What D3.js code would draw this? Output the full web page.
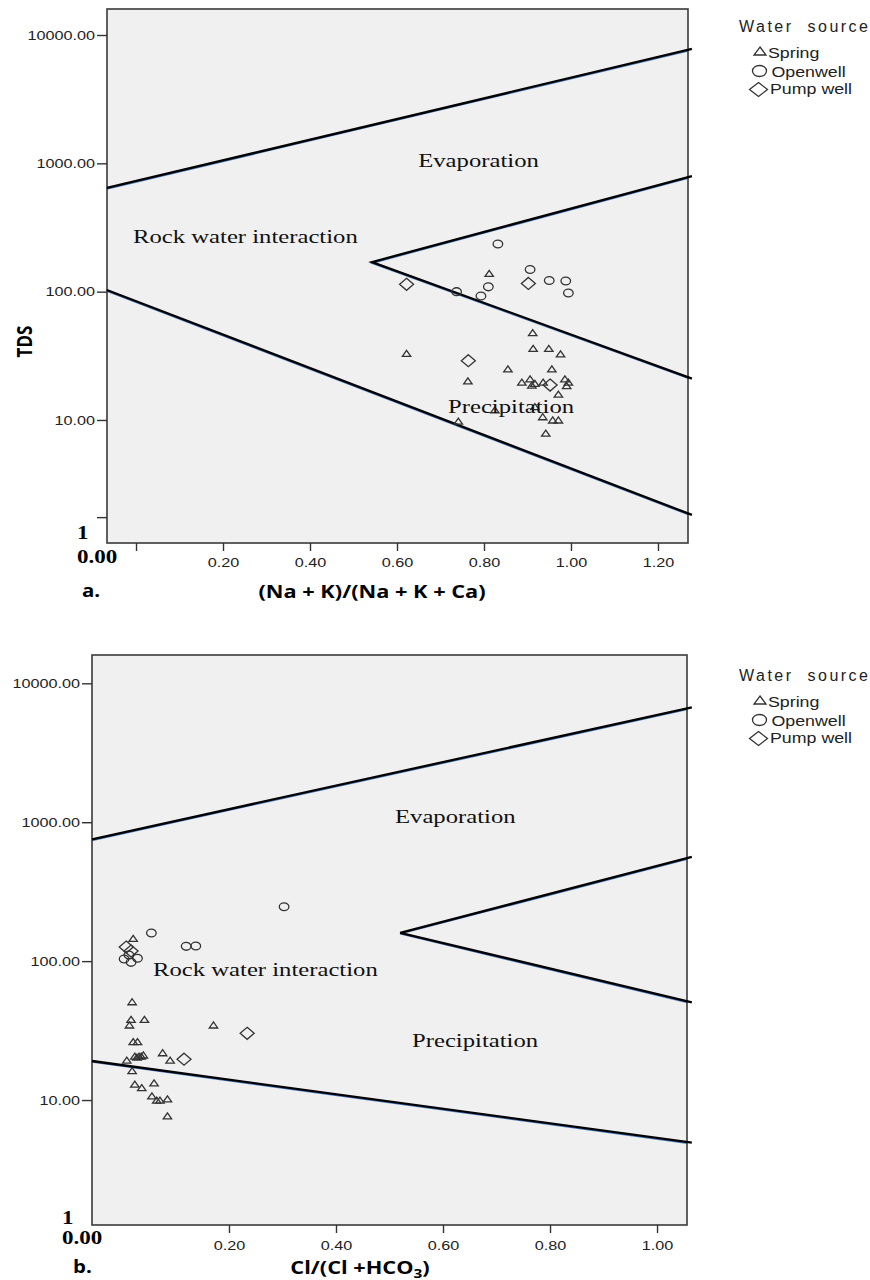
<!DOCTYPE html>
<html lang="en">
<head>
<meta charset="utf-8">
<title>Gibbs diagrams - TDS</title>
<script src="https://d3js.org/d3.v7.min.js"></script>
<style>
  body { margin: 0; background: #fff; }
  svg { display: block; }
  .tick text { font-family: "Liberation Sans", Arial, sans-serif; font-size: 13.5px; fill: #222; }
  .tick line { stroke: #333; stroke-width: 1.4px; }
  .zone { font-family: "Liberation Serif", "Times New Roman", serif; font-size: 19px; fill: #111; }
  .legend-title { font-family: "Liberation Sans", Arial, sans-serif; font-size: 16px; fill: #222; }
  .legend-item { font-family: "Liberation Sans", Arial, sans-serif; font-size: 14px; fill: #222; }
  .bold-serif { font-family: "Liberation Serif", "Times New Roman", serif; font-size: 18px; font-weight: bold; fill: #000; }
  .axis-title { font-family: "Open Sans", "Liberation Sans", sans-serif; font-size: 17px; font-weight: bold; fill: #000; }
</style>
</head>
<body>
<svg width="870" height="1280"></svg>
<script>
// ---- panel a: TDS against (Na + K)/(Na + K + Ca) ----
const springA = [[0.812,139],[0.912,47.9],[0.622,33.1],[0.913,36.2],[0.949,36.2],[0.976,32.7],
  [0.855,25.0],[0.956,25.0],[0.763,20.2],[0.887,19.7],[0.906,20.9],[0.910,18.7],[0.917,19.3],
  [0.936,19.7],[0.986,20.9],[0.994,19.7],[0.990,18.5],[0.971,15.9],[0.825,12.0],[0.917,12.7],
  [0.935,10.6],[0.958,10.0],[0.971,10.0],[0.741,9.8],[0.942,7.9]];
const openwellA = [[0.832,235],[0.906,149],[0.950,122],[0.988,121],[0.994,97.6],[0.810,109],
  [0.737,100],[0.793,92.5]];
const pumpwellA = [[0.622,114],[0.902,116],[0.764,29.0],[0.952,18.7]];
// Gibbs boundary lines (x, TDS)
const boundA = [
  [[-0.067,643],[1.278,7780]],
  [[1.278,796],[0.5425,170],[1.278,21.0]],
  [[-0.067,103],[1.278,1.82]]
];
const xTicksA = [0, 0.2, 0.4, 0.6, 0.8, 1.0, 1.2];
const yTicksA = [1.75, 10, 100, 1000, 10000];   // lowest tick is the one relabelled "1"

// ---- panel b: TDS against Cl/(Cl + HCO3) ----
const springB = [[0.021,145.9],[0.019,51.0],[0.017,38.1],[0.042,38.1],[0.014,34.7],[0.171,34.7],
  [0.021,26.3],[0.029,26.3],[0.009,19.4],[0.024,20.7],[0.032,20.7],[0.040,21.1],[0.076,21.9],
  [0.090,19.4],[0.019,16.3],[0.024,13.0],[0.037,12.3],[0.060,13.3],[0.056,10.7],[0.065,10.0],
  [0.071,10.0],[0.085,10.2],[0.085,7.7],[0.028,20.4],[0.036,20.7]];
const openwellB = [[0.303,246.5],[0.055,159.3],[0.120,127.8],[0.138,128.4],[0.004,103.5],
  [0.017,98.0],[0.029,104.8],[0.013,110.6]];
const pumpwellB = [[0.008,126.3],[0.017,118.2],[0.234,30.2],[0.116,19.7]];
const boundB = [
  [[-0.056,753],[1.065,6715]],
  [[1.065,562],[0.52,160],[1.065,50.4]],
  [[-0.056,19.1],[1.065,4.93]]
];
const xTicksB = [0.2, 0.4, 0.6, 0.8, 1.0];
const yTicksB = [10, 100, 1000, 10000];

const legendLabels = ["Spring", "Openwell", "Pump well"];

// the original figure is stretched sideways, so text is widened to match
const SX = 1.28;

const svg = d3.select("svg");
const fmt = d3.format(".2f");

function shape(kind, w, h) {
  if (kind === "triangle") return `M0,${-h/2}L${w/2},${h/2}L${-w/2},${h/2}Z`;
  if (kind === "diamond") return `M0,${-h/2}L${w/2},0L0,${h/2}L${-w/2},0Z`;
  // ellipse as path
  const rx = w/2, ry = h/2;
  return `M${-rx},0A${rx},${ry} 0 1,0 ${rx},0A${rx},${ry} 0 1,0 ${-rx},0Z`;
}

function label(g, str, x, y, cls, anchor, k) {
  return g.append("text").attr("class", cls)
    .attr("text-anchor", anchor || "start")
    .attr("transform", `translate(${x},${y}) scale(${k || SX},1)`)
    .text(str);
}

function stretchTicks(sel, k) {
  sel.each(function() {
    const w = this.getComputedTextLength();
    if (w > 0) d3.select(this).attr("textLength", w * k).attr("lengthAdjust", "spacingAndGlyphs");
  });
}

const panels = [
  { id: "a", frame: {left: 107, right: 688, top: 9, bottom: 543},
    xDomain: [-0.0667, 1.269], yDomain: [1.10, 15945],
    spring: springA, openwell: openwellA, pumpwell: pumpwellA, bounds: boundA,
    xTicks: xTicksA, yTicks: yTicksA, xPad: 6,
    zones: [["Evaporation", 478.5, 167, "middle"], ["Rock water interaction", 133, 243, "start"],
            ["Precipitation", 448, 413, "start"]],
    one: [77, 539], zero: [77, 563],
    letter: ["a.", 82, 597], title: {x: 372, y: 598}, legendDy: 0 },
  { id: "b", frame: {left: 92, right: 687, top: 655, bottom: 1225},
    xDomain: [-0.056, 1.056], yDomain: [1.26, 15990],
    spring: springB, openwell: openwellB, pumpwell: pumpwellB, bounds: boundB,
    xTicks: xTicksB, yTicks: yTicksB, xPad: 7.5,
    zones: [["Evaporation", 395, 822.5, "start"], ["Rock water interaction", 153, 976, "start"],
            ["Precipitation", 412, 1047, "start"]],
    one: [62, 1224], zero: [62, 1244],
    letter: ["b.", 73, 1273], title: {x: 358, y: 1274}, legendDy: 649 }
];

panels.forEach(p => {
  const f = p.frame;
  const g = svg.append("g").attr("class", "panel-" + p.id);
  const x = d3.scaleLinear().domain(p.xDomain).range([f.left, f.right]);
  const y = d3.scaleLog().domain(p.yDomain).range([f.bottom, f.top]);

  g.append("rect")
    .attr("x", f.left).attr("y", f.top)
    .attr("width", f.right - f.left).attr("height", f.bottom - f.top)
    .attr("fill", "#f0f0f0");

  svg.append("clipPath").attr("id", "clip-" + p.id)
    .append("rect")
    .attr("x", f.left).attr("y", f.top)
    .attr("width", f.right - f.left).attr("height", f.bottom - f.top);

  const line = d3.line().x(d => x(d[0])).y(d => y(d[1]));

  // faint blue copy under the black boundaries
  g.append("g").attr("clip-path", `url(#clip-${p.id})`)
    .selectAll("path").data(p.bounds).join("path")
      .attr("d", line)
      .attr("transform", "translate(0,1.2)")
      .attr("fill", "none")
      .attr("stroke", "#4a7fc4")
      .attr("stroke-width", 1.3);

  g.append("rect")
    .attr("x", f.left).attr("y", f.top)
    .attr("width", f.right - f.left).attr("height", f.bottom - f.top)
    .attr("fill", "none").attr("stroke", "#3a3a3a").attr("stroke-width", 1.6);

  g.append("g").selectAll("path").data(p.bounds).join("path")
    .attr("d", line)
    .attr("fill", "none")
    .attr("stroke", "#000")
    .attr("stroke-width", 2.3);

  // samples
  const series = [
    {data: p.openwell, path: shape("circle", 9.6, 7.8)},
    {data: p.pumpwell, path: shape("diamond", 14, 12)},
    {data: p.spring, path: shape("triangle", 8.4, 6)}
  ];
  series.forEach(s => {
    g.append("g").selectAll("path").data(s.data).join("path")
      .attr("d", s.path)
      .attr("transform", d => `translate(${x(d[0])},${y(d[1])})`)
      .attr("fill", "none")
      .attr("stroke", "#333")
      .attr("stroke-width", 1.3);
  });

  // region names
  p.zones.forEach(z => label(g, z[0], z[1], z[2], "zone", z[3], 1.3));

  // axes
  const yAxis = g.append("g")
    .attr("transform", `translate(${f.left},0)`)
    .call(d3.axisLeft(y).tickValues(p.yTicks)
      .tickFormat(d => d < 5 ? "" : fmt(d))
      .tickSize(10).tickPadding(2));
  yAxis.select(".domain").remove();
  stretchTicks(yAxis.selectAll(".tick text"), 1.2);

  const xAxis = g.append("g")
    .attr("transform", `translate(0,${f.bottom})`)
    .call(d3.axisBottom(x).tickValues(p.xTicks)
      .tickFormat(d => d === 0 ? "" : fmt(d))
      .tickSize(8).tickPadding(p.xPad));
  xAxis.select(".domain").remove();
  stretchTicks(xAxis.selectAll(".tick text"), 1.2);

  // hand-set "1" and "0.00" at the origin
  label(g, "1", p.one[0], p.one[1], "bold-serif");
  label(g, "0.00", p.zero[0], p.zero[1], "bold-serif");

  label(g, p.letter[0], p.letter[1], p.letter[2], "axis-title", "start", 1.2);

  // legend
  const lg = g.append("g").attr("transform", `translate(0,${p.legendDy})`);
  lg.append("text").attr("class", "legend-title")
    .attr("x", 739).attr("y", 31.5)
    .attr("textLength", 129).attr("lengthAdjust", "spacing")
    .style("white-space", "pre")
    .text("Water  source");
  const marks = [
    {path: shape("triangle", 12, 8), cx: 760, cy: 51, tx: 768, ty: 58},
    {path: shape("circle", 14, 11), cx: 759.5, cy: 71, tx: 771.5, ty: 77},
    {path: shape("diamond", 18, 14), cx: 758.5, cy: 89.5, tx: 770, ty: 93.5}
  ];
  marks.forEach((m, i) => {
    lg.append("path").attr("d", m.path)
      .attr("transform", `translate(${m.cx},${m.cy})`)
      .attr("fill", "none").attr("stroke", "#333").attr("stroke-width", 1.3);
    label(lg, legendLabels[i], m.tx, m.ty, "legend-item", "start", 1.27);
  });
});

// axis titles
const ga = svg.select(".panel-a");
label(ga, "(Na + K)/(Na + K + Ca)", 372, 598, "axis-title", "middle", 1.28);
ga.append("text").attr("class", "axis-title")
  .attr("text-anchor", "middle")
  .attr("font-size", "19px")
  .attr("transform", "translate(31.5,341.5) scale(1.28,1) rotate(-90)")
  .text("TDS");

const gb = svg.select(".panel-b");
const tb = gb.append("text").attr("class", "axis-title")
  .attr("text-anchor", "middle")
  .attr("transform", "translate(360,1274) scale(1.28,1)");
tb.append("tspan").text("Cl/(Cl +HCO");
tb.append("tspan").attr("font-size", "12px").attr("dy", 4).text("3");
tb.append("tspan").attr("dy", -4).text(")");
</script>
</body>
</html>
